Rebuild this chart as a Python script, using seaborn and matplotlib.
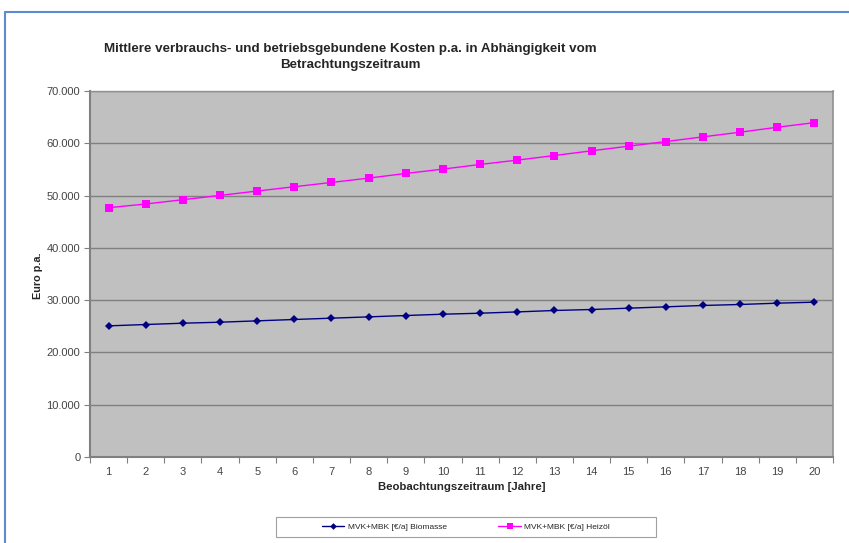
import matplotlib
matplotlib.use("Agg")
import matplotlib.pyplot as plt
from matplotlib.ticker import FuncFormatter, FixedLocator
from matplotlib.lines import Line2D
from matplotlib.patches import Rectangle
import seaborn as sns
import pandas as pd

# Observation period in years
jahre = list(range(1, 21))
# Average consumption- and operation-related costs per year (EUR)
biomasse = [25080, 25340, 25590, 25780, 26040, 26300, 26550, 26800, 27060, 27310,
            27500, 27750, 28020, 28210, 28460, 28720, 28980, 29170, 29420, 29610]
heizoel = [47680, 48390, 49210, 50030, 50870, 51690, 52510, 53340, 54230, 55060,
           55950, 56780, 57660, 58560, 59450, 60330, 61230, 62120, 63070, 63950]
serien = ["MVK+MBK [€/a] Biomasse", "MVK+MBK [€/a] Heizöl"]
y_ticks = [0, 10000, 20000, 30000, 40000, 50000, 60000, 70000]

sns.set_theme(style="white")
plt.rcParams["font.family"] = ["Liberation Sans", "DejaVu Sans"]

df = pd.DataFrame({
    "Jahr": jahre * 2,
    "Kosten": biomasse + heizoel,
    "Serie": [serien[0]] * len(jahre) + [serien[1]] * len(jahre),
})

fig = plt.figure(figsize=(8.49, 5.43), dpi=100)
fig.patch.set_facecolor("white")
ax = fig.add_axes([90 / 849, 1 - 457 / 543, 743 / 849, 366 / 543])
ax.set_facecolor("#C0C0C0")

palette = {serien[0]: "#000080", serien[1]: "#FF00FF"}
markers = {serien[0]: "D", serien[1]: "s"}
sizes = {serien[0]: 4.2, serien[1]: 5.2}
for s in serien:
    sns.lineplot(data=df[df["Serie"] == s], x="Jahr", y="Kosten", color=palette[s],
                 marker=markers[s], markersize=sizes[s], markeredgewidth=0,
                 linewidth=1.0, legend=False, ax=ax)

ax.set_xlim(0.5, 20.5)
ax.set_ylim(0, 70000)
ax.yaxis.set_major_locator(FixedLocator(y_ticks))
ax.yaxis.set_major_formatter(FuncFormatter(lambda v, p: f"{int(v):,}".replace(",", ".")))
ax.grid(axis="y", color="#808080", linewidth=1.0)
ax.set_axisbelow(True)

# category axis: tick marks between categories, labels at category centres
ax.xaxis.set_major_locator(FixedLocator([i + 0.5 for i in range(0, 21)]))
ax.xaxis.set_major_formatter(FuncFormatter(lambda v, p: ""))
ax.xaxis.set_minor_locator(FixedLocator(jahre))
ax.xaxis.set_minor_formatter(FuncFormatter(lambda v, p: f"{int(round(v))}"))
ax.tick_params(axis="x", which="major", length=4, width=0.8, color="#808080", direction="out")
ax.tick_params(axis="x", which="minor", length=0, labelsize=8, labelcolor="#444444", pad=7)
ax.tick_params(axis="y", length=4, width=0.8, color="#808080", direction="out",
               labelsize=8, labelcolor="#444444", pad=3)
ax.tick_params(bottom=True, left=True, which="major")

for side in ["left", "bottom"]:
    ax.spines[side].set_color("#808080")
    ax.spines[side].set_linewidth(1.5)
ax.spines["right"].set_color("#909090")
ax.spines["right"].set_linewidth(1.2)
ax.spines["top"].set_color("#909090")
ax.spines["top"].set_linewidth(1.0)

ax.set_xlabel("Beobachtungszeitraum [Jahre]", fontsize=8.2, fontweight="bold", labelpad=4)
ax.set_ylabel("Euro p.a.", fontsize=7.8, fontweight="bold")
ax.yaxis.set_label_coords(-47 / 743, 0.495)

fig.text(350 / 849, 1 - 57 / 543,
         "Mittlere verbrauchs- und betriebsgebundene Kosten p.a. in Abhängigkeit vom\nBetrachtungszeitraum",
         ha="center", va="center", fontsize=9.6, fontweight="bold", linespacing=1.55)

# outer frame lines
fig.add_artist(Line2D([5 / 849, 5 / 849], [0, 1 - 12 / 543], transform=fig.transFigure,
                      color="#5B8BD0", linewidth=1.5))
fig.add_artist(Line2D([5 / 849, 1], [1 - 12 / 543, 1 - 12 / 543], transform=fig.transFigure,
                      color="#5B8BD0", linewidth=1.5))

# legend box
fig.add_artist(Rectangle((276 / 849, 1 - 537 / 543), 380 / 849, 20 / 543,
                         transform=fig.transFigure, facecolor="white",
                         edgecolor="#A0A0A0", linewidth=0.8))
handles = [Line2D([], [], color=palette[s], marker=markers[s], markersize=sizes[s] - 0.8,
                  markeredgewidth=0, linewidth=1.0) for s in serien]
leg = fig.legend(handles, serien, loc="center", bbox_to_anchor=(466 / 849, 1 - 527 / 543),
                 ncol=2, fontsize=6, frameon=False, handlelength=2.7,
                 columnspacing=6.2, handletextpad=0.4)

fig.savefig("out.png", dpi=100)
